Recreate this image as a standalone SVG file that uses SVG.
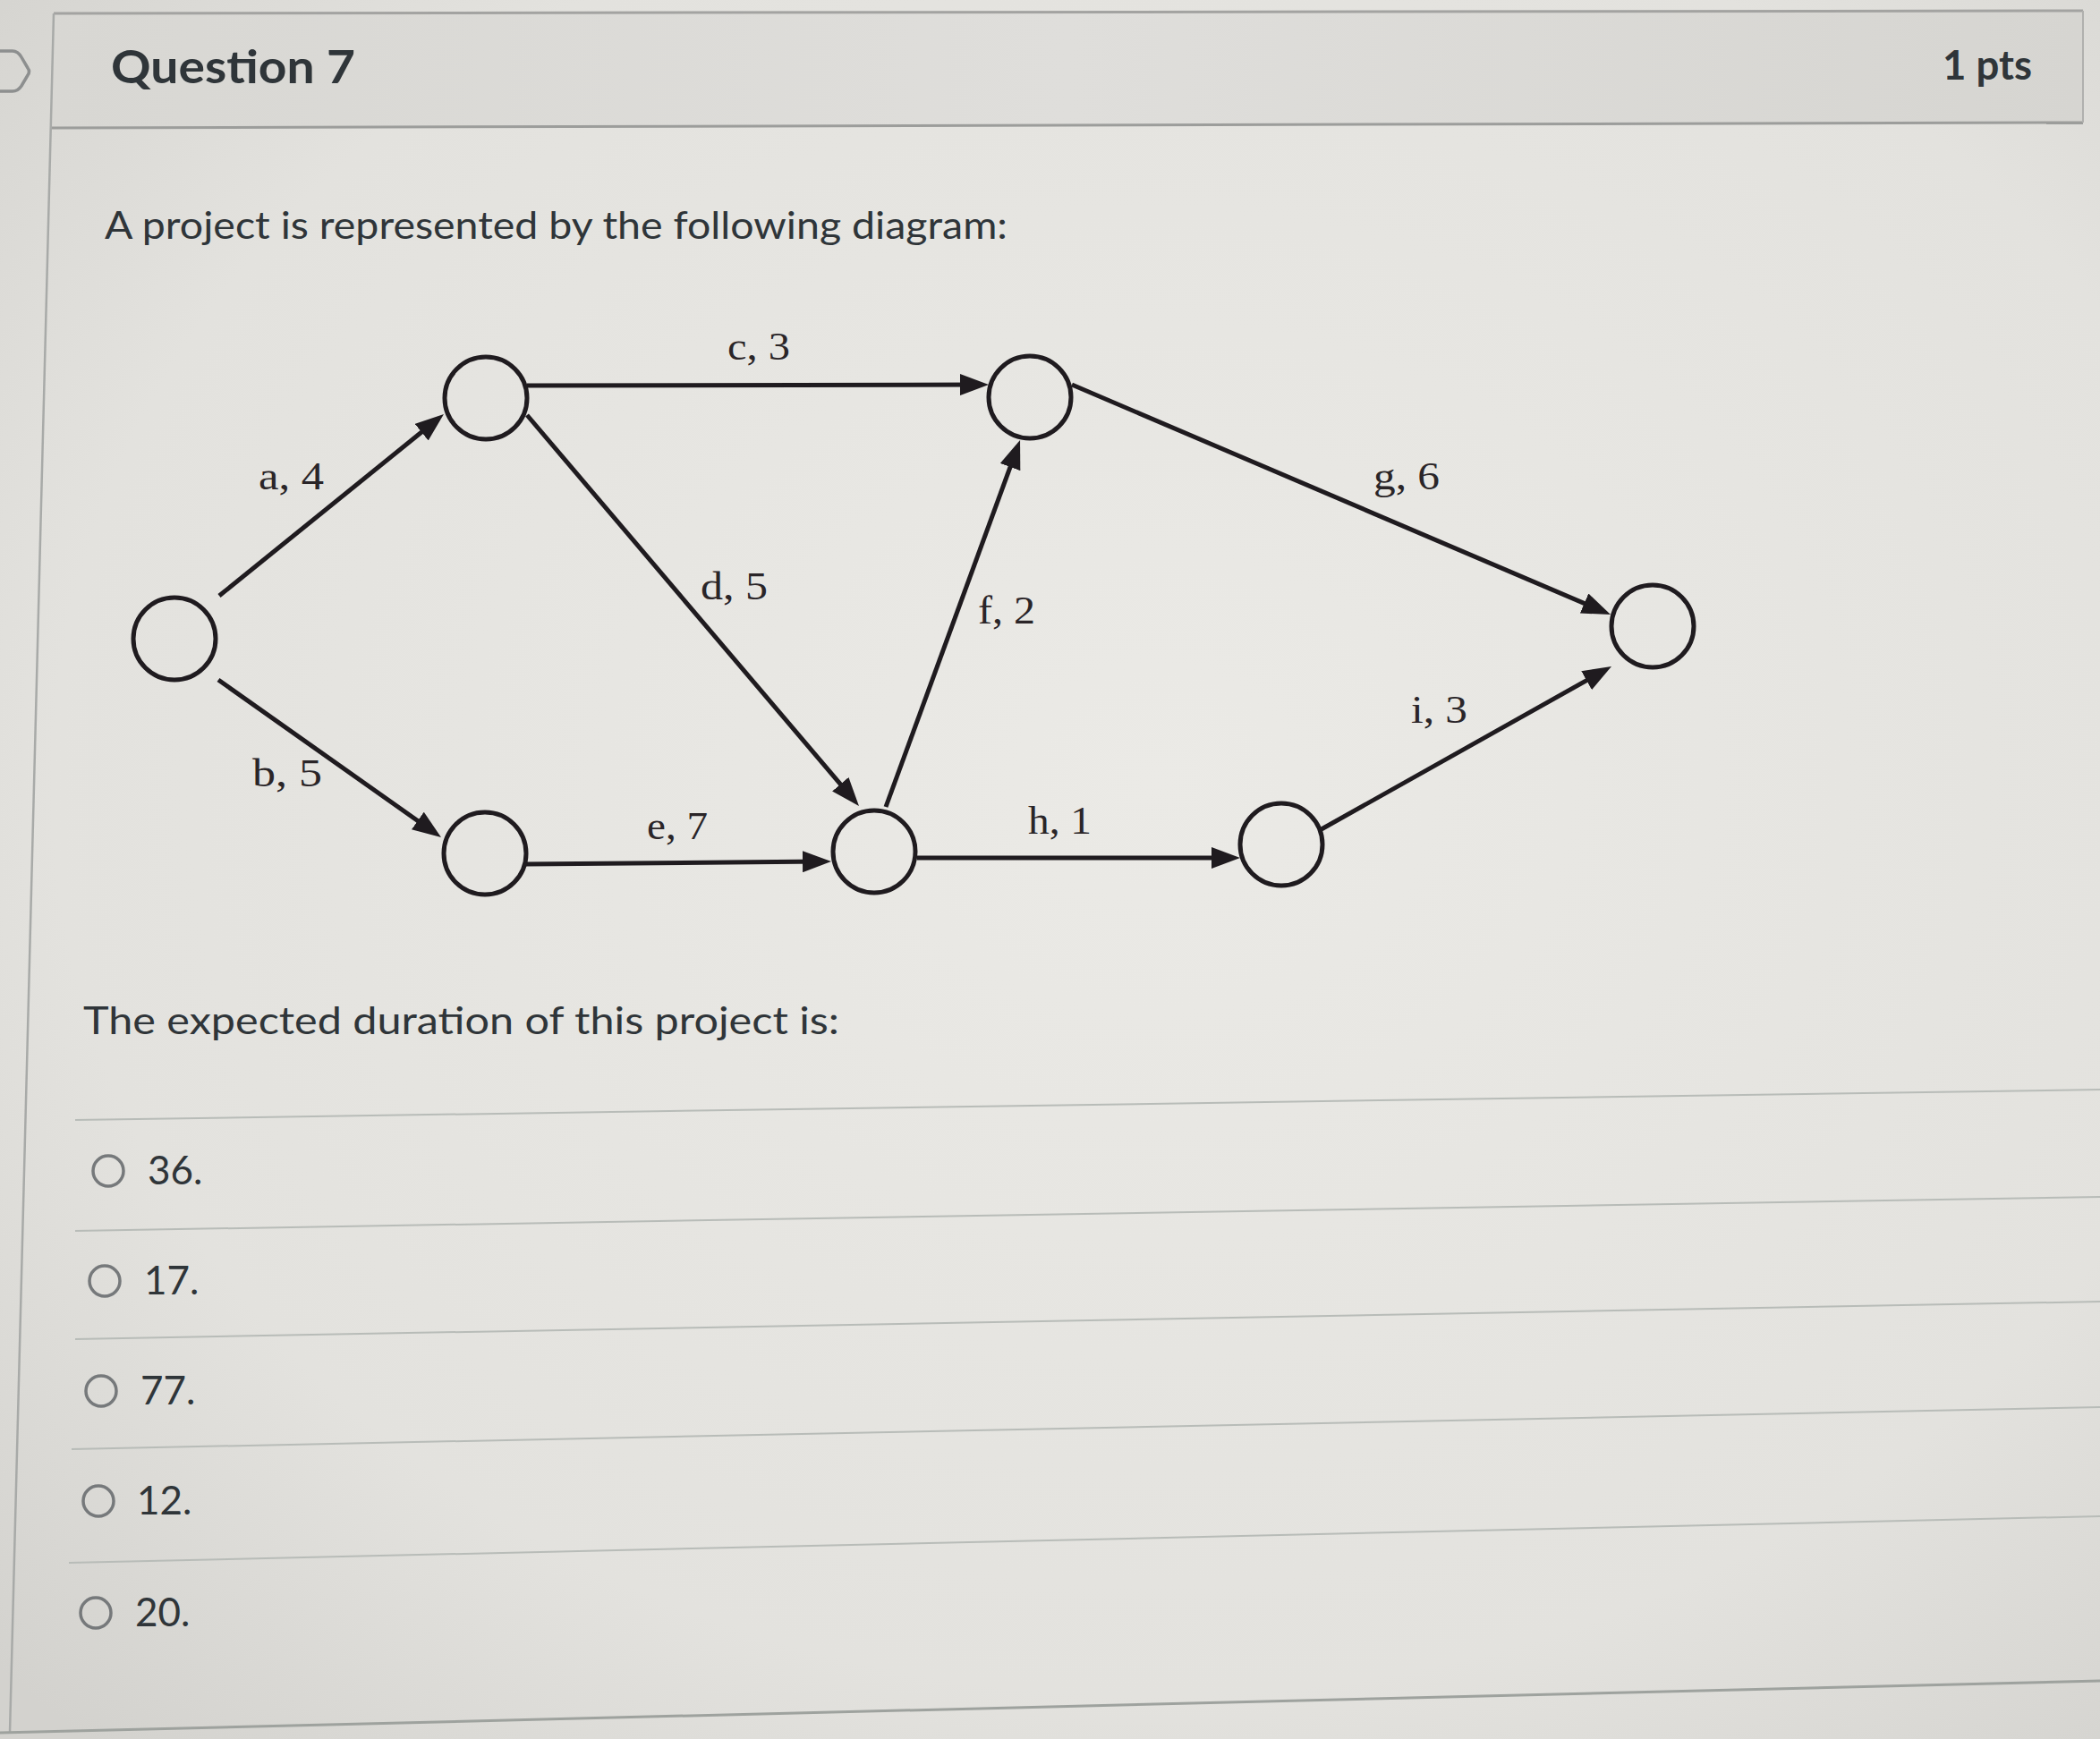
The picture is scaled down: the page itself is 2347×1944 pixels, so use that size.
<svg xmlns="http://www.w3.org/2000/svg" width="2347" height="1944" viewBox="0 0 2347 1944">
<defs>
<radialGradient id="bg" cx="0.55" cy="0.45" r="0.75">
<stop offset="0" stop-color="#ebeae6"/>
<stop offset="0.7" stop-color="#e3e2de"/>
<stop offset="1" stop-color="#d3d2ce"/>
</radialGradient>
<linearGradient id="hdr" x1="0" y1="0" x2="1" y2="0">
<stop offset="0" stop-color="#d8d7d3"/>
<stop offset="0.5" stop-color="#dfdedb"/>
<stop offset="1" stop-color="#d6d5d1"/>
</linearGradient>
<marker id="arr" viewBox="0 0 32 24" refX="22" refY="12" markerWidth="32" markerHeight="24" markerUnits="userSpaceOnUse" orient="auto">
<path d="M0,0 L32,12 L0,24 z" fill="#1f1b1f"/>
</marker>
</defs>
<style>
.edge{stroke:#1f1b1f;stroke-width:5;fill:none;marker-end:url(#arr)}
.node{fill:none;stroke:#1f1b1f;stroke-width:5}
.lbl{font-family:"Liberation Serif","Times New Roman",serif;font-size:44px;fill:#2a2528}
.ui{font-family:Lato,"Liberation Sans",sans-serif;fill:#2f3539}
.sep{stroke:#b8bcb8;stroke-width:2;fill:none}
.opt{fill:none;stroke:#76797b;stroke-width:3.5}
.optt{font-family:Lato,"Liberation Sans",sans-serif;font-size:44px;fill:#2f3539}
</style>
<rect x="0" y="0" width="2347" height="1944" fill="url(#bg)"/>
<path d="M60,15 L2328,12 L2328,137 L57,143 z" fill="url(#hdr)"/>
<path d="M60,15 L2328,12" stroke="#a3a3a1" stroke-width="3" fill="none"/>
<path d="M57,143 L2328,137" stroke="#9c9d9b" stroke-width="3" fill="none"/>
<path d="M2328,12 L2328,137" stroke="#b0b0ae" stroke-width="2" fill="none"/>
<path d="M60,15 L11,1937" stroke="#a8aaa8" stroke-width="2.5" fill="none"/>
<path d="M0,1937 L2347,1879" stroke="#9ea29e" stroke-width="3" fill="none"/>
<path d="M0,57 L14,57 Q20,57 24,64 L31,76 Q34,80 31,84 L24,96 Q20,102 14,102 L0,102" stroke="#8d8f8f" stroke-width="3.5" fill="none"/>
<g id="header-text">
<text class="ui" x="124" y="93" font-size="52" font-weight="700" textLength="273" lengthAdjust="spacingAndGlyphs">Question 7</text>
<text class="ui" x="2171" y="89" font-size="46" font-weight="700" textLength="100" lengthAdjust="spacingAndGlyphs">1 pts</text>
</g>
<text class="ui" x="117" y="267" font-size="42" textLength="1009" lengthAdjust="spacingAndGlyphs">A project is represented by the following diagram:</text>
<g id="connectors">
<path id="edge-a" class="edge" d="M245,666 L488.2,469.3"/>
<path id="edge-b" class="edge" d="M244,760 L484.8,930.2"/>
<path id="edge-c" class="edge" d="M589,431 L1095,430"/>
<path id="edge-d" class="edge" d="M589,464 L953.5,893.4"/>
<path id="edge-e" class="edge" d="M588,966 L919,963"/>
<path id="edge-f" class="edge" d="M990,902 L1136.6,501.4"/>
<path id="edge-g" class="edge" d="M1198,430 L1790.8,683.1"/>
<path id="edge-h" class="edge" d="M1025,959 L1376,959"/>
<path id="edge-i" class="edge" d="M1475,928 L1792.3,749.9"/>
</g>
<g id="edge-labels">
<text class="lbl" x="289" y="547" textLength="73" lengthAdjust="spacingAndGlyphs">a, 4</text>
<text class="lbl" x="282" y="879" textLength="78" lengthAdjust="spacingAndGlyphs">b, 5</text>
<text class="lbl" x="813" y="402" textLength="70" lengthAdjust="spacingAndGlyphs">c, 3</text>
<text class="lbl" x="783" y="670" textLength="75" lengthAdjust="spacingAndGlyphs">d, 5</text>
<text class="lbl" x="723" y="938" textLength="68" lengthAdjust="spacingAndGlyphs">e, 7</text>
<text class="lbl" x="1093" y="697" textLength="64" lengthAdjust="spacingAndGlyphs">f, 2</text>
<text class="lbl" x="1535" y="547" textLength="74" lengthAdjust="spacingAndGlyphs">g, 6</text>
<text class="lbl" x="1149" y="932" textLength="71" lengthAdjust="spacingAndGlyphs">h, 1</text>
<text class="lbl" x="1577" y="808" textLength="63" lengthAdjust="spacingAndGlyphs">i, 3</text>
</g>
<g id="n1"><circle class="node" cx="195" cy="714" r="46"/></g>
<g id="n2"><circle class="node" cx="543" cy="445" r="46"/></g>
<g id="n3"><circle class="node" cx="1151" cy="444" r="46"/></g>
<g id="n4"><circle class="node" cx="542" cy="954" r="46"/></g>
<g id="n5"><circle class="node" cx="977" cy="952" r="46"/></g>
<g id="n6"><circle class="node" cx="1432" cy="944" r="46"/></g>
<g id="n7"><circle class="node" cx="1847" cy="700" r="46"/></g>
<text class="ui" x="93" y="1156" font-size="43" textLength="845" lengthAdjust="spacingAndGlyphs">The expected duration of this project is:</text>
<g id="separators">
<path class="sep" d="M84,1252 L2347,1218"/>
<path class="sep" d="M84,1376 L2347,1338"/>
<path class="sep" d="M84,1497 L2347,1455"/>
<path class="sep" d="M80,1620 L2347,1573"/>
<path class="sep" d="M77,1747 L2347,1695"/>
</g>
<g id="options">
<circle class="opt" cx="121" cy="1309" r="17"/>
<text class="optt" x="165" y="1324">36.</text>
<circle class="opt" cx="117" cy="1432" r="17"/>
<text class="optt" x="161" y="1447">17.</text>
<circle class="opt" cx="113" cy="1555" r="17"/>
<text class="optt" x="157" y="1570">77.</text>
<circle class="opt" cx="110" cy="1678" r="17"/>
<text class="optt" x="153" y="1693">12.</text>
<circle class="opt" cx="107" cy="1803" r="17"/>
<text class="optt" x="151" y="1818">20.</text>
</g>
</svg>
